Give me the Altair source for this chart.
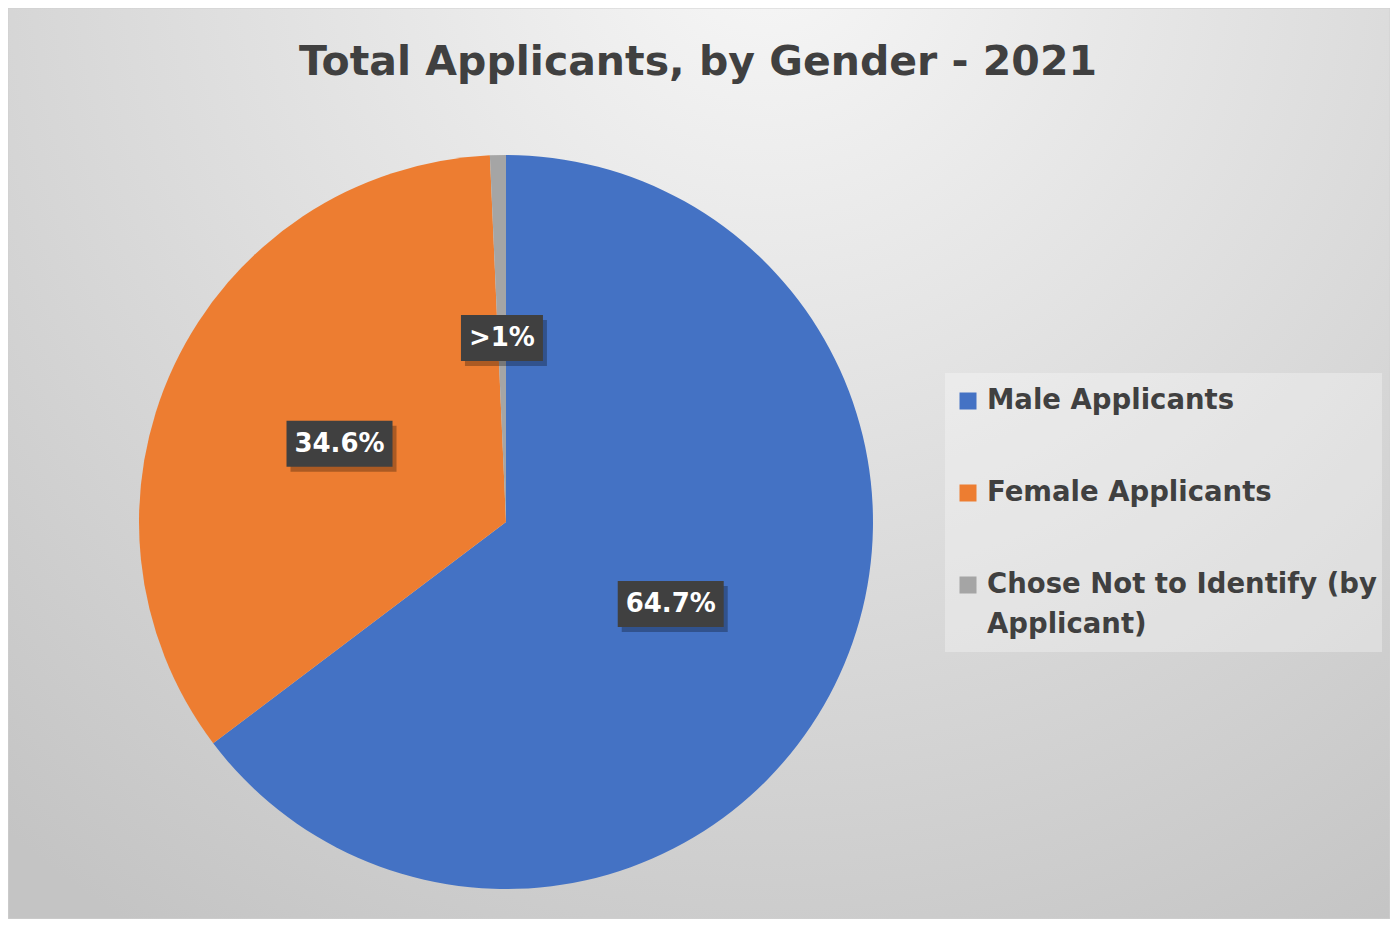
import json
import altair as alt
import pandas as pd

# ---- data ----
categories = ["Male Applicants", "Female Applicants", "Chose Not to Identify (by Applicant)"]
shares = [64.7, 34.6, 0.7]
label_texts = ["64.7%", "34.6%", ">1%"]
colors = ["#4472C4", "#ED7D31", "#A5A5A5"]
title_text = "Total Applicants, by Gender - 2021"

# ---- layout (pixels) ----
W, H = 1382, 911
CX, CY, R = 498, 514, 367
LR = 184
FONT = "DejaVu Sans"

df = pd.DataFrame({
    "cat": categories,
    "share": shares,
    "label": label_texts,
    "idx": list(range(len(categories))),
})

color_scale = alt.Scale(domain=categories, range=colors)
cats_js = json.dumps(categories)

one = pd.DataFrame({"a": [0]})

bg = alt.Chart(one).mark_rect(
    fill=alt.RadialGradient(
        gradient="radial",
        x1=0.55, y1=0.12, r1=0.0,
        x2=0.55, y2=0.12, r2=0.85,
        stops=[alt.GradientStop(offset=0, color="#f7f7f7"),
               alt.GradientStop(offset=1, color="#c4c4c4")],
    ),
    stroke="#d0d0d0", strokeWidth=1,
).encode(x=alt.value(0), x2=alt.value(W), y=alt.value(0), y2=alt.value(H))

title = alt.Chart(one).mark_text(
    text=title_text, font=FONT, fontWeight="bold", fontSize=41,
    color="#404040", align="center", baseline="middle",
).encode(x=alt.value(690), y=alt.value(55))

pie = alt.Chart(df).mark_arc(outerRadius=R, stroke=None).encode(
    theta=alt.Theta("share:Q", stack=True),
    order=alt.Order("idx:Q"),
    color=alt.Color("cat:N", scale=color_scale, legend=None),
    x=alt.value(CX), y=alt.value(CY),
)

lab = alt.Chart(df).transform_joinaggregate(
    total="sum(share)"
).transform_window(
    cum="sum(share)", sort=[alt.SortField("idx")], frame=[None, 0]
).transform_calculate(
    ang="(datum.cum - datum.share/2) / datum.total * 2 * PI",
).transform_calculate(
    lx=f"{CX} + {LR} * sin(datum.ang)",
    ly=f"{CY} - {LR} * cos(datum.ang)",
    bw="12 * length(datum.label) + 46",
).transform_calculate(
    x0="datum.lx - datum.bw/2", x1="datum.lx + datum.bw/2",
    y0="datum.ly - 23", y1="datum.ly + 23",
    sx0="datum.lx - datum.bw/2 + 4", sx1="datum.lx + datum.bw/2 + 4",
    sy0="datum.ly - 23 + 5", sy1="datum.ly + 23 + 5",
)

shadow = lab.mark_rect(fill="#000000", opacity=0.28).encode(
    x=alt.X("sx0:Q", scale=None), x2="sx1:Q",
    y=alt.Y("sy0:Q", scale=None), y2="sy1:Q",
)
box = lab.mark_rect(fill="#404040").encode(
    x=alt.X("x0:Q", scale=None), x2="x1:Q",
    y=alt.Y("y0:Q", scale=None), y2="y1:Q",
)
txt = lab.mark_text(
    font=FONT, fontWeight="bold", fontSize=26, color="#ffffff",
    align="center", baseline="middle",
).encode(
    x=alt.X("lx:Q", scale=None), y=alt.Y("ly:Q", scale=None), text="label:N",
)

# ---- legend ----
leg_box = alt.Chart(one).mark_rect(fill="#ffffff", opacity=0.3).encode(
    x=alt.value(937), x2=alt.value(1374), y=alt.value(365), y2=alt.value(644),
)
leg = alt.Chart(df).transform_calculate(
    ly=f"393 + 92 * indexof({cats_js}, datum.cat)",
    line="split(replace(datum.cat, ' (by Applicant)', ' (by\\nApplicant)'), '\\n')",
)
leg_sym = leg.mark_square(size=289, opacity=1).encode(
    x=alt.value(960),
    y=alt.Y("ly:Q", scale=None),
    color=alt.Color("cat:N", scale=color_scale, legend=None),
)
leg_txt = leg.mark_text(
    font=FONT, fontWeight="bold", fontSize=27.5, color="#404040",
    align="left", baseline="middle", lineHeight=40,
).encode(
    x=alt.value(979), y=alt.Y("ly:Q", scale=None), text="line:N",
)

chart = alt.layer(
    bg, title, pie, shadow, box, txt, leg_box, leg_sym, leg_txt
).properties(
    width=W, height=H, padding=0,
    autosize=alt.AutoSizeParams(type="none"),
).configure_view(stroke=None)

chart.save("out.html", embed_options={"renderer": "svg", "actions": False})
